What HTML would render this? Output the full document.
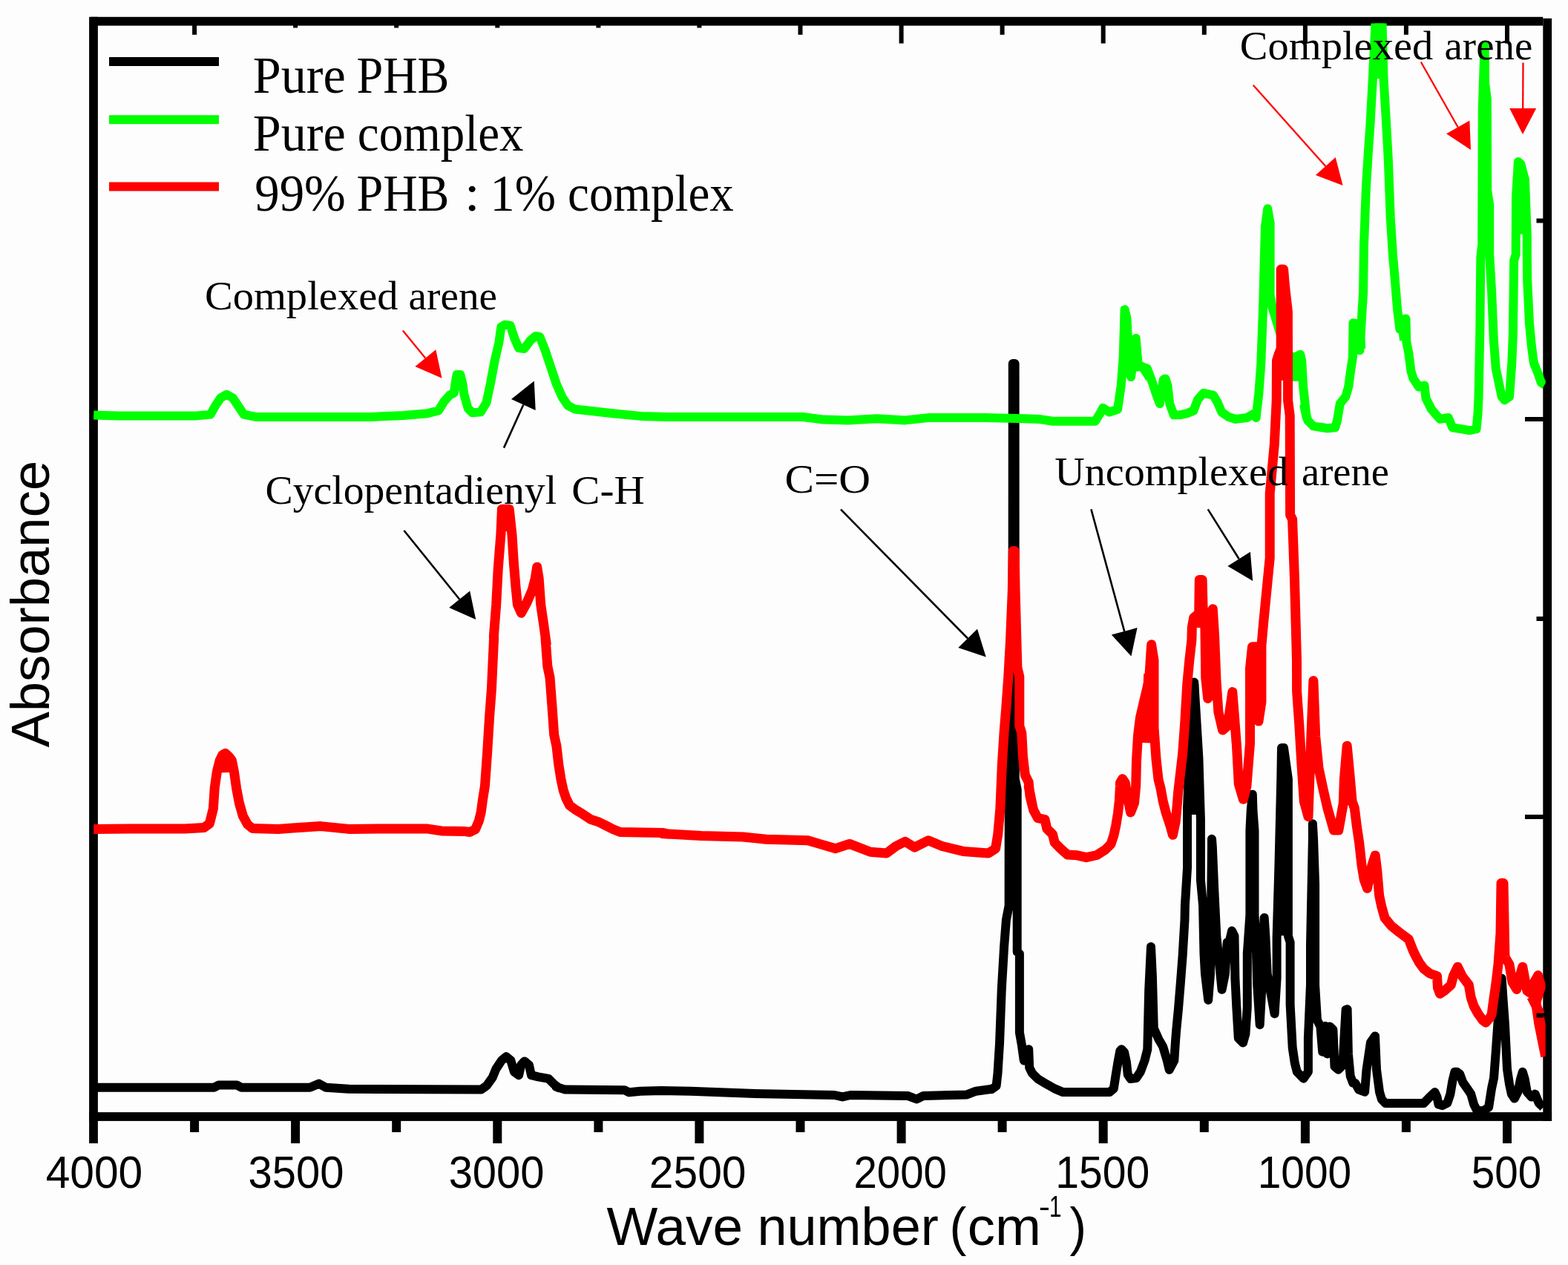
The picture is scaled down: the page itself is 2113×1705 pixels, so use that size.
<!DOCTYPE html>
<html lang="en"><head><meta charset="utf-8"><title>FTIR spectra</title>
<style>
html,body{margin:0;padding:0;background:#fdfdfd;}
body{width:2113px;height:1705px;overflow:hidden;}
svg{display:block;}
</style></head>
<body>
<svg width="2113" height="1705" viewBox="0 0 2113 1705">
<rect x="0" y="0" width="2113" height="1705" fill="#fdfdfd"/>
<defs><clipPath id="plot"><rect x="123" y="31.4" width="1959.7" height="1476"/></clipPath></defs>
<g id="frame" fill="#000"><rect x="120.1" y="22.8" width="11.8" height="1518.2"/><rect x="2079.3" y="24.8" width="11.8" height="1486.1"/><rect x="122.1" y="22.8" width="1957.2" height="11.8"/><rect x="120.1" y="1499.1" width="1971.0" height="11.8"/></g>
<g id="topticks" fill="#000"><rect x="259.1" y="30" width="6" height="16.8"/><rect x="395.1" y="30" width="6" height="28.5"/><rect x="531.2" y="30" width="6" height="16.8"/><rect x="667.3" y="30" width="6" height="28.5"/><rect x="803.4" y="30" width="6" height="16.8"/><rect x="939.4" y="30" width="6" height="28.5"/><rect x="1075.5" y="30" width="6" height="16.8"/><rect x="1211.6" y="30" width="6" height="28.5"/><rect x="1347.6" y="30" width="6" height="16.8"/><rect x="1483.7" y="30" width="6" height="28.5"/><rect x="1619.8" y="30" width="6" height="16.8"/><rect x="1755.9" y="30" width="6" height="28.5"/><rect x="1891.9" y="30" width="6" height="16.8"/><rect x="2028.0" y="30" width="6" height="28.5"/></g>
<rect x="330" y="37.5" width="680" height="30" fill="#fdfdfd"/>
<g clip-path="url(#plot)"><polyline points="125.4,1465.8 288.4,1465.8 294.6,1462.4 319.2,1462.4 325.3,1465.8 417.6,1465.8 429.9,1460.6 439.1,1465.8 469.9,1467.7 648.3,1468.6 656.0,1463.1 663.7,1452.3 668.3,1440.9 676.0,1429.2 682.2,1424.3 688.3,1429.2 692.9,1444.6 699.1,1449.2 702.2,1435.4 706.8,1430.4 712.9,1435.4 716.0,1449.2 725.2,1451.4 739.1,1453.8 746.8,1461.5 752.9,1466.1 749.2,1464.6 761.5,1468.6 841.5,1469.2 847.7,1472.3 863.0,1470.7 890.7,1470.1 930.7,1470.7 1010.7,1473.8 1124.5,1476.0 1135.3,1478.4 1146.1,1476.0 1223.0,1476.9 1235.3,1481.5 1244.5,1476.9 1302.9,1475.4 1315.2,1470.7 1336.8,1467.7 1336.0,1468.3 1342.6,1463.6 1344.5,1446.5 1347.0,1406.7 1349.8,1332.8 1353.1,1276.0 1355.9,1240.0 1359.6,1221.0 1359.8,1066.0 1362.0,1040.0 1364.6,900.0 1364.8,490.0 1367.6,490.0 1367.8,1050.0 1370.7,1064.0 1370.7,1283.0 1373.9,1285.5 1373.9,1391.6 1376.9,1408.6 1379.8,1429.5 1383.4,1425.7 1386.2,1414.3 1387.2,1438.9 1390.9,1446.5 1398.5,1454.1 1408.0,1459.8 1421.3,1467.4 1432.6,1472.1 1495.1,1472.1 1500.8,1467.4 1503.7,1448.4 1506.5,1431.4 1509.4,1416.2 1511.3,1414.3 1515.0,1418.1 1517.9,1431.4 1519.8,1448.4 1523.6,1454.1 1531.1,1453.1 1536.8,1444.6 1542.5,1429.5 1546.3,1414.3 1548.2,1334.7 1551.0,1276.0 1552.9,1315.8 1554.8,1385.9 1561.5,1401.0 1567.1,1410.5 1572.8,1429.5 1575.7,1441.8 1582.3,1429.5 1584.2,1401.0 1585.1,1389.7 1588.0,1359.4 1590.8,1325.3 1593.7,1287.4 1596.5,1240.0 1596.9,1220.4 1600.0,1170.0 1600.0,1089.8 1602.6,1021.6 1609.2,919.5 1615.4,1021.6 1617.9,1104.0 1617.9,1185.6 1621.1,1220.4 1622.5,1285.7 1624.0,1312.6 1628.2,1347.9 1631.0,1312.6 1632.4,1197.7 1633.0,1140.9 1633.0,1130.8 1633.8,1140.9 1636.2,1197.7 1639.4,1263.0 1641.6,1284.2 1646.6,1333.8 1650.9,1312.6 1653.7,1270.0 1656.5,1270.1 1660.1,1254.6 1663.5,1261.6 1664.4,1318.3 1666.3,1357.3 1668.8,1399.2 1675.0,1405.5 1678.4,1393.5 1680.8,1357.3 1680.8,1284.9 1684.4,1233.2 1684.4,1119.6 1685.7,1092.6 1687.8,1070.7 1688.5,1092.6 1690.5,1119.6 1690.5,1233.2 1692.8,1277.2 1694.2,1326.8 1697.7,1381.3 1700.6,1326.8 1702.0,1263.0 1703.7,1236.9 1705.4,1263.0 1707.7,1312.6 1717.6,1366.4 1720.6,1318.3 1720.6,1264.4 1723.4,1167.8 1726.3,1050.0 1727.0,1008.0 1730.0,1008.0 1735.9,1050.0 1735.9,1261.6 1738.6,1270.0 1738.6,1353.8 1741.7,1412.0 1744.9,1433.3 1747.8,1444.6 1756.6,1453.7 1762.9,1444.6 1762.9,1399.2 1766.0,1326.8 1766.0,1272.9 1768.9,1131.6 1768.9,1110.2 1770.1,1131.6 1772.1,1192.0 1772.1,1292.1 1772.1,1327.5 1775.0,1375.1 1779.4,1383.6 1782.2,1417.7 1785.8,1382.9 1788.6,1420.5 1792.1,1383.6 1796.4,1387.8 1798.5,1437.5 1803.5,1441.7 1807.8,1437.5 1809.9,1426.2 1813.6,1360.9 1815.6,1360.3 1816.9,1420.5 1819.7,1450.3 1823.2,1459.5 1826.2,1459.7 1831.1,1468.7 1839.1,1471.7 1841.5,1441.8 1847.0,1405.0 1853.0,1396.5 1855.0,1441.8 1859.0,1471.7 1861.9,1481.6 1866.9,1487.0 1918.6,1487.0 1926.6,1478.6 1933.5,1472.1 1936.5,1478.6 1938.5,1488.6 1943.5,1490.1 1950.4,1486.6 1954.4,1474.6 1957.4,1456.7 1960.4,1444.8 1963.4,1444.8 1967.3,1447.8 1971.3,1458.7 1978.3,1468.7 1982.2,1474.6 1986.2,1488.6 1990.2,1496.5 1998.2,1497.5 2006.1,1492.5 2010.1,1466.7 2013.1,1452.8 2016.1,1413.0 2019.0,1371.2 2022.0,1353.3 2023.6,1318.5 2026.0,1353.3 2028.0,1381.2 2031.0,1440.8 2033.9,1460.7 2036.9,1474.6 2040.9,1480.6 2045.9,1470.7 2048.9,1454.8 2051.8,1444.8 2054.8,1454.8 2057.8,1471.7 2063.8,1478.6 2068.7,1474.6 2073.7,1486.6 2079.7,1492.5" fill="none" stroke="#000000" stroke-width="12.0" stroke-linejoin="round" stroke-linecap="butt"/>
<polyline points="1366.2,492.0 1365.5,1219.0" fill="none" stroke="#000000" stroke-width="12.0" stroke-linejoin="round" stroke-linecap="butt"/>
<polyline points="1609.2,922.0 1609.0,1098.0" fill="none" stroke="#000000" stroke-width="12.0" stroke-linejoin="round" stroke-linecap="butt"/>
<polyline points="1729.2,1010.0 1729.7,1261.0" fill="none" stroke="#000000" stroke-width="12.0" stroke-linejoin="round" stroke-linecap="butt"/>
</g>
<g clip-path="url(#plot)"><polyline points="126.2,559.4 160.0,560.6 200.0,560.6 262.4,560.6 283.7,558.6 289.9,547.4 297.4,536.2 305.4,531.7 313.6,536.2 321.1,547.4 328.6,558.6 344.9,561.9 499.8,561.9 543.6,560.0 575.8,557.2 590.9,553.4 598.5,541.0 606.1,532.5 611.8,529.7 614.2,512.6 615.6,505.0 620.3,505.0 623.2,516.4 625.4,531.6 630.7,550.5 636.4,556.2 647.8,555.3 655.4,542.9 661.0,516.4 666.7,486.1 672.4,461.5 675.3,440.6 680.0,437.8 687.6,438.7 693.3,455.8 698.9,469.0 706.5,470.0 714.1,459.6 721.7,452.9 727.4,453.9 734.9,472.8 742.5,495.6 750.1,518.3 757.7,535.4 765.3,546.7 774.7,551.5 799.4,554.3 825.9,557.2 863.8,560.9 900.0,561.9 956.7,562.0 1081.9,562.0 1110.0,565.6 1143.2,566.4 1181.6,564.3 1219.9,566.4 1250.6,563.1 1327.2,563.1 1380.9,564.3 1400.0,564.9 1418.9,567.8 1475.8,567.8 1483.4,555.5 1486.2,549.8 1494.7,555.5 1506.1,551.7 1510.8,519.5 1513.7,481.6 1515.6,417.2 1518.4,428.5 1522.2,500.5 1524.1,508.1 1530.7,456.0 1533.6,491.0 1540.2,494.8 1545.9,496.7 1551.6,511.9 1557.3,528.9 1562.9,544.1 1567.7,511.9 1570.5,510.4 1573.4,519.5 1576.2,544.1 1581.9,559.3 1589.5,559.3 1598.9,557.4 1608.4,553.6 1614.1,538.4 1621.7,529.9 1634.9,532.7 1640.6,542.2 1646.3,555.5 1655.8,562.1 1665.3,564.9 1680.4,563.0 1689.9,557.4 1692.6,563.0 1696.4,529.9 1699.3,490.1 1702.1,414.3 1704.9,306.3 1708.2,281.3 1711.6,300.6 1711.6,397.3 1714.4,414.3 1719.2,429.5 1730.5,467.4 1741.9,484.4 1746.6,480.6 1752.3,477.8 1754.2,486.3 1756.1,520.4 1758.9,546.9 1760.8,563.0 1757.5,547.9 1762.3,566.8 1769.8,574.4 1788.8,577.3 1799.2,576.3 1802.0,566.8 1805.8,544.1 1813.4,534.6 1817.2,521.4 1820.0,500.5 1822.9,481.6 1823.5,435.2 1826.7,436.1 1832.4,472.1 1835.2,424.7 1837.1,394.4 1838.0,330.0 1840.9,253.0 1843.7,207.6 1846.6,165.9 1849.8,107.2 1853.2,38.0 1854.2,8.6 1862.7,8.6 1862.7,38.0 1864.6,107.2 1868.0,164.0 1870.8,215.1 1873.7,292.8 1876.9,343.0 1879.7,375.5 1883.0,416.2 1886.4,443.7 1894.5,429.5 1895.3,460.7 1898.3,475.9 1901.5,500.5 1904.4,510.0 1911.9,521.4 1919.5,519.5 1921.4,536.5 1929.0,551.7 1940.4,564.9 1951.7,563.0 1957.4,576.3 1968.8,578.2 1980.1,580.1 1989.6,578.2 1991.5,557.4 1992.5,536.5 1994.4,443.7 1995.3,347.1 1997.2,330.0 1997.8,146.0 2000.6,60.7 2001.2,112.8 2003.8,133.7 2004.2,256.8 2007.2,275.8 2007.2,343.0 2010.1,392.5 2012.9,458.8 2015.8,496.7 2019.9,516.6 2023.7,534.6 2027.5,539.4 2034.1,534.6 2037.4,487.3 2038.9,450.3 2040.2,350.8 2042.7,343.0 2043.0,266.3 2045.9,218.0 2049.3,220.8 2055.0,242.6 2057.8,317.5 2057.8,343.0 2058.2,377.4 2061.0,436.1 2063.9,466.4 2066.9,489.2 2073.0,504.3 2076.8,515.7 2081.5,518.5" fill="none" stroke="#00ff00" stroke-width="12.0" stroke-linejoin="round" stroke-linecap="butt"/>
<polyline points="1858.5,28.0 1859.2,106.0" fill="none" stroke="#00ff00" stroke-width="12.0" stroke-linejoin="round" stroke-linecap="butt"/>
<polyline points="2045.9,220.8 2050.6,315.6" fill="none" stroke="#00ff00" stroke-width="12.0" stroke-linejoin="round" stroke-linecap="butt"/>
<polyline points="1746.2,479.7 1746.2,513.8" fill="none" stroke="#00ff00" stroke-width="12.0" stroke-linejoin="round" stroke-linecap="butt"/>
<polyline points="1826.7,436.1 1826.3,477.8" fill="none" stroke="#00ff00" stroke-width="12.0" stroke-linejoin="round" stroke-linecap="butt"/>
<polyline points="1832.0,433.3 1834.3,470.2" fill="none" stroke="#00ff00" stroke-width="12.0" stroke-linejoin="round" stroke-linecap="butt"/>
<polyline points="1888.3,424.7 1892.0,458.8" fill="none" stroke="#00ff00" stroke-width="12.0" stroke-linejoin="round" stroke-linecap="butt"/>
<polyline points="1516.0,424.7 1521.3,500.5" fill="none" stroke="#00ff00" stroke-width="12.0" stroke-linejoin="round" stroke-linecap="butt"/>
<polyline points="1530.7,462.6 1533.6,500.5" fill="none" stroke="#00ff00" stroke-width="12.0" stroke-linejoin="round" stroke-linecap="butt"/>
<polyline points="1541.2,496.7 1549.7,510.0" fill="none" stroke="#00ff00" stroke-width="12.0" stroke-linejoin="round" stroke-linecap="butt"/>
</g>
<g clip-path="url(#plot)"><polyline points="126.2,1117.4 175.0,1116.9 249.9,1116.9 274.9,1115.4 282.4,1109.9 287.4,1089.9 289.2,1062.4 292.4,1039.9 296.2,1024.9 299.9,1017.4 303.6,1015.4 308.6,1019.9 312.4,1024.9 315.4,1039.9 318.6,1062.4 322.4,1082.4 327.4,1099.9 333.6,1111.1 339.9,1116.4 374.9,1117.4 394.9,1116.1 432.3,1113.6 469.8,1117.4 537.3,1116.9 574.8,1116.9 594.8,1119.9 624.7,1120.4 633.1,1121.5 640.6,1117.7 645.4,1106.3 648.2,1094.9 650.5,1077.9 653.5,1058.9 656.7,1013.5 659.6,966.1 662.4,929.2 665.6,860.0 665.4,857.4 668.7,814.9 671.2,767.4 674.9,720.0 676.4,686.2 686.2,686.2 689.9,720.0 692.4,759.9 694.9,789.9 697.4,814.9 702.4,826.2 709.9,812.4 717.4,794.9 721.2,779.9 723.7,764.2 726.2,779.9 728.7,814.9 732.4,839.9 736.2,867.4 735.0,860.0 737.8,897.9 741.0,913.1 743.9,950.9 746.7,990.7 750.0,1005.9 752.8,1030.5 755.8,1049.5 759.0,1064.6 762.8,1076.0 767.6,1085.5 775.1,1091.1 784.6,1096.8 796.0,1104.4 807.4,1108.2 816.8,1112.9 826.3,1117.7 835.8,1121.5 892.6,1122.4 902.1,1124.3 891.8,1123.4 944.9,1126.5 1001.1,1128.0 1032.4,1131.2 1088.6,1132.7 1104.2,1137.4 1126.1,1143.7 1144.8,1137.4 1172.9,1148.3 1194.8,1149.9 1207.3,1140.5 1219.8,1134.3 1232.3,1142.1 1251.0,1132.7 1269.7,1140.5 1297.9,1147.4 1332.2,1149.9 1341.6,1143.7 1344.7,1124.9 1347.8,1090.6 1350.3,1031.2 1353.1,986.9 1355.8,953.8 1358.8,912.1 1361.5,863.8 1364.3,796.5 1365.3,742.5 1367.2,742.5 1368.1,796.5 1370.9,899.8 1373.8,912.1 1373.8,978.4 1376.8,987.9 1378.5,1020.1 1381.4,1044.7 1386.1,1054.2 1388.0,1073.1 1391.8,1088.3 1386.2,1060.0 1389.0,1077.1 1392.8,1092.2 1398.5,1102.6 1408.0,1104.5 1410.8,1116.8 1418.4,1124.4 1421.3,1135.8 1428.8,1143.4 1438.3,1151.9 1451.6,1152.8 1463.9,1155.7 1478.1,1152.5 1489.5,1145.3 1497.0,1137.7 1500.8,1126.3 1503.7,1113.1 1506.5,1096.0 1508.4,1078.9 1509.4,1060.0 1509.5,1055.1 1512.6,1049.8 1516.3,1055.1 1518.6,1070.2 1523.6,1095.0 1528.5,1082.3 1530.7,1059.6 1531.5,1025.5 1533.5,991.4 1536.5,967.2 1542.5,941.5 1548.6,915.7 1551.6,868.8 1555.0,890.0 1555.0,980.8 1558.0,1023.3 1561.0,1050.5 1564.1,1062.6 1567.1,1079.3 1570.9,1094.4 1576.9,1112.6 1580.4,1125.3 1584.2,1107.3 1586.0,1088.4 1587.7,1067.2 1590.7,1041.4 1593.7,1015.7 1596.8,973.3 1599.8,921.8 1602.8,890.0 1605.9,862.7 1606.3,845.8 1608.7,832.5 1615.7,826.8 1616.3,781.4 1620.1,781.4 1621.0,817.4 1623.9,845.8 1624.8,914.0 1627.7,941.5 1630.5,936.7 1632.8,826.8 1634.3,820.8 1636.6,857.2 1639.0,917.8 1641.9,959.5 1647.6,984.1 1654.2,978.4 1657.0,959.5 1660.8,932.6 1663.7,968.9 1666.1,1001.1 1666.3,1002.0 1669.3,1056.6 1675.4,1077.3 1679.9,1059.6 1684.5,1002.0 1684.5,900.6 1687.5,871.8 1693.5,871.8 1695.7,885.4 1696.0,972.1 1699.9,946.0 1699.9,870.3 1702.6,840.0 1711.2,752.0 1711.2,665.0 1714.5,630.0 1717.4,598.0 1720.2,540.0 1720.5,486.0 1723.0,478.0 1726.2,470.0 1726.2,363.0 1729.6,363.0 1731.0,380.0 1732.5,395.0 1735.4,420.0 1735.6,540.0 1738.2,560.0 1738.6,694.0 1741.6,700.0 1744.5,780.0 1747.5,890.0 1747.6,932.0 1750.8,977.0 1754.0,1031.0 1757.3,1080.0 1763.0,1100.7 1766.3,1007.3 1769.9,917.6 1772.7,992.3 1777.0,1035.3 1783.4,1065.3 1788.8,1088.9 1797.4,1119.0 1803.8,1119.0 1810.3,1082.5 1811.4,1050.3 1815.2,1005.2 1818.9,1043.8 1822.1,1080.3 1825.3,1088.9 1828.5,1114.7 1831.7,1136.2 1835.0,1166.2 1838.2,1185.5 1842.5,1197.3 1848.9,1166.2 1853.2,1152.9 1855.8,1173.7 1858.6,1207.0 1861.8,1222.0 1866.1,1237.1 1874.7,1247.8 1885.4,1256.4 1898.3,1266.0 1904.3,1281.4 1908.3,1289.7 1912.7,1297.7 1918.6,1305.6 1926.6,1312.0 1936.5,1315.6 1937.5,1331.5 1940.5,1339.4 1946.5,1335.4 1955.4,1327.5 1958.4,1315.6 1964.4,1303.2 1970.3,1315.6 1979.3,1327.5 1982.2,1344.4 1986.2,1356.3 1991.8,1366.3 1998.2,1375.2 2002.1,1378.2 2008.1,1371.2 2010.1,1367.3 2013.1,1345.4 2016.1,1324.5 2019.0,1299.7 2022.0,1257.9 2023.0,1190.3 2026.0,1190.3 2027.0,1240.0 2028.0,1289.7 2033.9,1299.7 2037.9,1323.5 2043.9,1333.5 2046.9,1319.5 2051.8,1303.2 2054.8,1319.5 2057.8,1335.4 2063.8,1339.4 2067.8,1323.5 2072.7,1314.6 2076.7,1329.5 2069.7,1351.4 2073.7,1379.2 2077.7,1399.1 2082.7,1423.9" fill="none" stroke="#ff0000" stroke-width="13.0" stroke-linejoin="round" stroke-linecap="butt"/>
<polyline points="1547.7,908.2 1544.4,1001.3" fill="none" stroke="#ff0000" stroke-width="13.0" stroke-linejoin="round" stroke-linecap="butt"/>
<polyline points="1614.8,837.0 1614.8,846.1" fill="none" stroke="#ff0000" stroke-width="13.0" stroke-linejoin="round" stroke-linecap="butt"/>
<polyline points="1728.5,405.8 1728.2,512.8" fill="none" stroke="#ff0000" stroke-width="13.0" stroke-linejoin="round" stroke-linecap="butt"/>
<polyline points="2063.8,1343.4 2075.7,1367.3" fill="none" stroke="#ff0000" stroke-width="13.0" stroke-linejoin="round" stroke-linecap="butt"/>
<polyline points="2069.7,1351.4 2078.7,1391.1" fill="none" stroke="#ff0000" stroke-width="13.0" stroke-linejoin="round" stroke-linecap="butt"/>
<polyline points="681.2,687.5 682.2,716.2" fill="none" stroke="#ff0000" stroke-width="13.0" stroke-linejoin="round" stroke-linecap="butt"/>
<polyline points="1609.0,838.0 1620.0,836.0" fill="none" stroke="#ff0000" stroke-width="13.0" stroke-linejoin="round" stroke-linecap="butt"/>
<polyline points="303.6,1016.9 304.4,1041.2" fill="none" stroke="#ff0000" stroke-width="13.0" stroke-linejoin="round" stroke-linecap="butt"/>
</g>
<g id="bottomticks" fill="#000"><rect x="256.1" y="1505" width="12" height="21.0"/><rect x="392.1" y="1505" width="12" height="36.0"/><rect x="528.2" y="1505" width="12" height="21.0"/><rect x="664.3" y="1505" width="12" height="36.0"/><rect x="800.4" y="1505" width="12" height="21.0"/><rect x="936.4" y="1505" width="12" height="36.0"/><rect x="1072.5" y="1505" width="12" height="21.0"/><rect x="1208.6" y="1505" width="12" height="36.0"/><rect x="1344.6" y="1505" width="12" height="21.0"/><rect x="1480.7" y="1505" width="12" height="36.0"/><rect x="1616.8" y="1505" width="12" height="21.0"/><rect x="1752.9" y="1505" width="12" height="36.0"/><rect x="1888.9" y="1505" width="12" height="21.0"/><rect x="2025.0" y="1505" width="12" height="36.0"/></g>
<g id="rightticks" fill="#000"><rect x="2070.5" y="294.5" width="9.5" height="6"/><rect x="2055" y="562" width="25" height="6"/><rect x="2070.5" y="831" width="9.5" height="6"/><rect x="2055" y="1098" width="25" height="6"/><rect x="2070.5" y="1365.5" width="9.5" height="6"/></g>
<g id="legend"><rect x="147" y="77" width="148" height="12" fill="#000"/><rect x="147" y="155.2" width="148" height="12" fill="#00ff00"/><rect x="147" y="245.5" width="148" height="12" fill="#ff0000"/></g>
<g id="labels" fill="#000">
<text transform="translate(0,124.5) scale(1,1.060)" style="font-family:'Liberation Serif',serif;font-size:66px;white-space:pre"><tspan x="340.83" textLength="124.97" lengthAdjust="spacingAndGlyphs">Pure</tspan> <tspan x="480.46" textLength="124.80" lengthAdjust="spacingAndGlyphs">PHB</tspan></text>
<text transform="translate(0,202.7) scale(1,1.060)" style="font-family:'Liberation Serif',serif;font-size:66px;white-space:pre"><tspan x="340.83" textLength="124.97" lengthAdjust="spacingAndGlyphs">Pure</tspan> <tspan x="481.84" textLength="223.71" lengthAdjust="spacingAndGlyphs">complex</tspan></text>
<text transform="translate(0,284.1) scale(1,1.060)" style="font-family:'Liberation Serif',serif;font-size:66px;white-space:pre"><tspan x="343.22" textLength="122.54" lengthAdjust="spacingAndGlyphs">99%</tspan> <tspan x="480.46" textLength="124.80" lengthAdjust="spacingAndGlyphs">PHB</tspan> <tspan x="625.77" textLength="21.07" lengthAdjust="spacingAndGlyphs">:</tspan> <tspan x="660.52" textLength="88.42" lengthAdjust="spacingAndGlyphs">1%</tspan> <tspan x="765.04" textLength="223.82" lengthAdjust="spacingAndGlyphs">complex</tspan></text>
<text transform="translate(0,416.8) scale(1,1.000)" style="font-family:'Liberation Serif',serif;font-size:55px;white-space:pre"><tspan x="275.99" textLength="260.51" lengthAdjust="spacingAndGlyphs">Complexed</tspan> <tspan x="550.59" textLength="119.42" lengthAdjust="spacingAndGlyphs">arene</tspan></text>
<text transform="translate(0,678.8) scale(1,1.000)" style="font-family:'Liberation Serif',serif;font-size:55px;white-space:pre"><tspan x="357.62" textLength="392.51" lengthAdjust="spacingAndGlyphs">Cyclopentadienyl</tspan> <tspan x="770.36" textLength="98.44" lengthAdjust="spacingAndGlyphs">C-H</tspan></text>
<text transform="translate(0,664.1) scale(1,1.000)" style="font-family:'Liberation Serif',serif;font-size:55px;white-space:pre"><tspan x="1057.48" textLength="115.66" lengthAdjust="spacingAndGlyphs">C=O</tspan></text>
<text transform="translate(0,654.4) scale(1,1.000)" style="font-family:'Liberation Serif',serif;font-size:55px;white-space:pre"><tspan x="1421.22" textLength="314.86" lengthAdjust="spacingAndGlyphs">Uncomplexed</tspan> <tspan x="1754.02" textLength="117.98" lengthAdjust="spacingAndGlyphs">arene</tspan></text>
<text transform="translate(0,80.0) scale(1,1.000)" style="font-family:'Liberation Serif',serif;font-size:55px;white-space:pre"><tspan x="1670.89" textLength="260.30" lengthAdjust="spacingAndGlyphs">Complexed</tspan> <tspan x="1946.50" textLength="118.80" lengthAdjust="spacingAndGlyphs">arene</tspan></text>
<text transform="translate(0,1601.2) scale(1,1.045)" style="font-family:'Liberation Sans',sans-serif;font-size:58px;white-space:pre"><tspan x="61.64" textLength="130.57" lengthAdjust="spacingAndGlyphs">4000</tspan></text>
<text transform="translate(0,1601.2) scale(1,1.045)" style="font-family:'Liberation Sans',sans-serif;font-size:58px;white-space:pre"><tspan x="334.45" textLength="128.93" lengthAdjust="spacingAndGlyphs">3500</tspan></text>
<text transform="translate(0,1601.2) scale(1,1.045)" style="font-family:'Liberation Sans',sans-serif;font-size:58px;white-space:pre"><tspan x="604.65" textLength="128.93" lengthAdjust="spacingAndGlyphs">3000</tspan></text>
<text transform="translate(0,1601.2) scale(1,1.045)" style="font-family:'Liberation Sans',sans-serif;font-size:58px;white-space:pre"><tspan x="874.76" textLength="130.75" lengthAdjust="spacingAndGlyphs">2500</tspan></text>
<text transform="translate(0,1601.2) scale(1,1.045)" style="font-family:'Liberation Sans',sans-serif;font-size:58px;white-space:pre"><tspan x="1150.38" textLength="125.54" lengthAdjust="spacingAndGlyphs">2000</tspan></text>
<text transform="translate(0,1601.2) scale(1,1.045)" style="font-family:'Liberation Sans',sans-serif;font-size:58px;white-space:pre"><tspan x="1422.27" textLength="127.08" lengthAdjust="spacingAndGlyphs">1500</tspan></text>
<text transform="translate(0,1601.2) scale(1,1.045)" style="font-family:'Liberation Sans',sans-serif;font-size:58px;white-space:pre"><tspan x="1694.69" textLength="126.55" lengthAdjust="spacingAndGlyphs">1000</tspan></text>
<text transform="translate(0,1601.2) scale(1,1.045)" style="font-family:'Liberation Sans',sans-serif;font-size:58px;white-space:pre"><tspan x="1982.66" textLength="94.47" lengthAdjust="spacingAndGlyphs">500</tspan></text>
<text transform="translate(0,1677.6) scale(1,1.020)" style="font-family:'Liberation Sans',sans-serif;font-size:70.5px"><tspan x="817.44" textLength="183.66" lengthAdjust="spacingAndGlyphs">Wave</tspan> <tspan x="1020.45" textLength="244.28" lengthAdjust="spacingAndGlyphs">number</tspan> <tspan x="1279.55" textLength="22.92" lengthAdjust="spacingAndGlyphs">(</tspan><tspan x="1303.73" textLength="99.16" lengthAdjust="spacingAndGlyphs">cm</tspan><tspan x="1399.79" textLength="15.31" lengthAdjust="spacingAndGlyphs" dy="-37.25" style="font-size:40px">-</tspan><tspan x="1414.07" textLength="16.51" lengthAdjust="spacingAndGlyphs" style="font-size:40px">1</tspan><tspan x="1441.52" textLength="22.47" lengthAdjust="spacingAndGlyphs" dy="37.25">)</tspan></text>
<text transform="translate(66.0,1007.56) rotate(-90) scale(1,1.02)" textLength="386.79" lengthAdjust="spacingAndGlyphs" style="font-family:'Liberation Sans',sans-serif;font-size:71px">Absorbance</text>
</g>
<g id="arrows"><line x1="542.8" y1="445.4" x2="573.3" y2="482.7" stroke="#ff0000" stroke-width="2.3"/><polygon points="595.5,509.8 559.4,494.1 587.3,471.3" fill="#ff0000"/><line x1="679.0" y1="603.6" x2="705.3" y2="545.5" stroke="#000000" stroke-width="2.6"/><polygon points="719.8,513.6 721.7,552.9 689.0,538.0" fill="#000000"/><line x1="544.4" y1="715.0" x2="619.2" y2="807.7" stroke="#000000" stroke-width="2.6"/><polygon points="641.2,834.9 605.2,819.0 633.2,796.4" fill="#000000"/><line x1="1133.0" y1="686.6" x2="1304.1" y2="860.5" stroke="#000000" stroke-width="2.6"/><polygon points="1328.7,885.4 1291.3,873.1 1317.0,847.8" fill="#000000"/><line x1="1470.4" y1="686.4" x2="1515.2" y2="850.8" stroke="#000000" stroke-width="2.6"/><polygon points="1524.4,884.6 1497.8,855.6 1532.6,846.1" fill="#000000"/><line x1="1627.7" y1="686.4" x2="1669.6" y2="753.3" stroke="#000000" stroke-width="2.6"/><polygon points="1688.2,783.0 1654.4,762.9 1684.9,743.8" fill="#000000"/><line x1="1688.8" y1="114.7" x2="1786.3" y2="224.0" stroke="#ff0000" stroke-width="2.3"/><polygon points="1809.6,250.1 1772.9,236.0 1799.7,212.0" fill="#ff0000"/><line x1="1914.8" y1="83.5" x2="1964.7" y2="171.5" stroke="#ff0000" stroke-width="2.3"/><polygon points="1982.0,201.9 1949.1,180.3 1980.4,162.6" fill="#ff0000"/><line x1="2052.5" y1="84.4" x2="2052.2" y2="146.0" stroke="#ff0000" stroke-width="2.3"/><polygon points="2052.0,181.0 2034.2,145.9 2070.2,146.1" fill="#ff0000"/></g>
</svg>
</body></html>
